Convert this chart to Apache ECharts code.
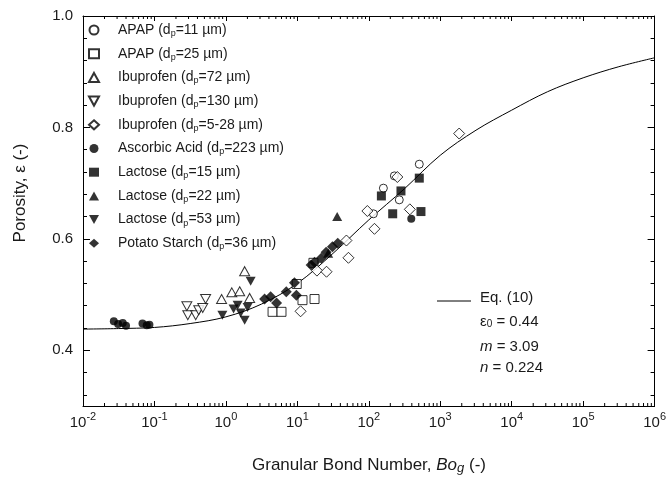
<!DOCTYPE html>
<html><head><meta charset="utf-8">
<script src="https://cdn.jsdelivr.net/npm/echarts@6/dist/echarts.min.js"></script>
<style>html,body{margin:0;padding:0;background:#fff}#c{width:669px;height:481px}</style>
</head><body><div id="c"></div>
<script>
const FONT = '"Liberation Sans", Arial, sans-serif';
const TXT = '#1a1a1a';

// ---- data (Bo_g, porosity) ----
const apap11   = [[116,0.645],[160,0.691],[228,0.713],[267,0.670],[509,0.734]];
const apap25   = [[4.5,0.469],[6.0,0.469],[9.8,0.519],[11.8,0.490],[17.4,0.492],[16.8,0.557]];
const ibu72    = [[0.87,0.492],[1.21,0.504],[1.56,0.506],[1.83,0.542],[2.15,0.494]];
const ibu130   = [[0.284,0.479],[0.293,0.463],[0.378,0.463],[0.417,0.472],[0.474,0.476],[0.52,0.492]];
const ibu528   = [[11.1,0.470],[18.8,0.543],[25.6,0.541],[48.6,0.597],[51.9,0.566],[95.5,0.650],[120,0.618],[251,0.711],[375,0.653],[1841,0.789]];
const ascorbic = [[0.027,0.452],[0.031,0.447],[0.036,0.449],[0.040,0.444],[0.068,0.448],[0.078,0.445],[0.085,0.446],[393,0.636]];
const lac15    = [[150,0.677],[216,0.645],[282,0.686],[509,0.709],[537,0.649]];
const lac22    = [[27,0.574],[36.1,0.640]];
const lac53    = [[0.893,0.463],[1.28,0.474],[1.46,0.481],[1.61,0.467],[1.83,0.454],[2.01,0.477],[2.22,0.524]];
const potato   = [[3.48,0.492],[4.23,0.496],[5.12,0.485],[7.0,0.505],[9.1,0.521],[9.7,0.499],[15.6,0.553],[17.4,0.558],[21.6,0.565],[25.3,0.576],[31.0,0.586],[36.8,0.592]];

// Eq. (10) curve
const curveBo  = [0.01,0.0316,0.1,0.316,1,3.16,10,31.6,100,316,1000,3162,1e4,31623,1e5,316228,1e6];
const curveEps = [0.438,0.439,0.441,0.448,0.46,0.483,0.52,0.574,0.634,0.69,0.75,0.795,0.831,0.864,0.889,0.909,0.925];

// axes
const xMin = 0.01, xMax = 1e6;
const yMin = 0.3, yMax = 1.0;
const yTickLabels = ['0.40','0.60','0.80','1.00'];
const yCats = [];
for (let i = 0; i <= 35; i++) yCats.push((yMin + 0.02 * i).toFixed(2));
const xMinorTicks = [];
for (let e = -2; e < 6; e++) for (let k = 2; k <= 9; k++) xMinorTicks.push(k * Math.pow(10, e));

const names = [
  'APAP (dp=11 µm)','APAP (dp=25 µm)','Ibuprofen (dp=72 µm)','Ibuprofen (dp=130 µm)',
  'Ibuprofen (dp=5-28 µm)','Ascorbic Acid (dp=223 µm)','Lactose (dp=15 µm)',
  'Lactose (dp=22 µm)','Lactose (dp=53 µm)','Potato Starch (dp=36 µm)'
];
const DOWN = 'path://M0,0L10,0L5,9Z';
const UP = 'path://M5,0L10,9L0,9Z';
const sets = [apap11, apap25, ibu72, ibu130, ibu528, ascorbic, lac15, lac22, lac53, potato];
const symbols = ['circle','rect',UP,DOWN,'diamond','circle','rect',UP,DOWN,'diamond'];
const sizes = [8,9,[10,9],[10,9],11,8,9,[10,9],[10,9],11];
const filled = [false,false,false,false,false,true,true,true,true,true];

const scatterSeries = names.map((n, i) => ({
  name: n, type: 'scatter', xAxisIndex: 0, yAxisIndex: 0,
  data: sets[i], symbol: symbols[i], symbolSize: sizes[i],
  itemStyle: filled[i] ? {color:'#000', borderColor:'#000', borderWidth:0}
                       : {color:'#fff', borderColor:'#000', borderWidth:1},
  z: 3
}));

const chart = echarts.init(document.getElementById('c'), null, {renderer:'canvas'});

function yCatAxis(pos, len, intervalFn, withLabel, withLine) {
  return {
    type:'category', data: yCats, boundaryGap:false, position: pos,
    axisLine:{show: withLine, lineStyle:{color:'#000', width:1}},
    axisTick:{show:true, inside:true, length: len, interval: intervalFn, lineStyle:{color:'#000', width:1}},
    axisLabel: withLabel ? {
      show:true, interval: (i, v) => yTickLabels.indexOf(v) >= 0,
      formatter: v => parseFloat(v).toFixed(1),
      fontFamily: FONT, fontSize: 15, color: TXT, margin: 10
    } : {show:false},
    splitLine:{show:false}
  };
}

const xLabelRich = {
  b:{fontFamily:FONT, fontSize:15, color:TXT, lineHeight:24},
  s:{fontFamily:FONT, fontSize:11, color:TXT, lineHeight:10, verticalAlign:'top'}
};

chart.setOption({
  animation:false,
  backgroundColor:'#fff',
  grid:{left:83, right:14, top:16, bottom:75, containLabel:false},
  xAxis:[
    {type:'log', logBase:10, min:xMin, max:xMax, splitNumber:8, position:'bottom',
     axisLine:{lineStyle:{color:'#000', width:1}},
     axisTick:{inside:true, length:5, lineStyle:{color:'#000'}},
     axisLabel:{margin:5, formatter: v => '{b|10}{s|' + Math.round(Math.log10(v)) + '}', rich: xLabelRich},
     splitLine:{show:false}},
    {type:'log', logBase:10, min:xMin, max:xMax, splitNumber:8, position:'top',
     axisLine:{lineStyle:{color:'#000', width:1}},
     axisTick:{inside:true, length:5, lineStyle:{color:'#000'}},
     axisLabel:{show:false}, splitLine:{show:false}}
  ],
  yAxis:[
    {type:'value', min:yMin, max:yMax, show:false},
    yCatAxis('left', 4, i => i % 2 === 1, true, true),
    yCatAxis('left', 7, i => i % 10 === 5, false, false),
    yCatAxis('right', 4, i => i % 2 === 1, false, true),
    yCatAxis('right', 7, i => i % 10 === 5, false, false)
  ],
  legend:{
    orient:'vertical', left:88, top:22, padding:0, itemWidth:10, itemHeight:9, itemGap:7.7,
    selectedMode:false, data:names,
    formatter: n => n.replace('dp', 'd{sub|p}'),
    textStyle:{fontFamily:FONT, fontSize:14, color:TXT, lineHeight:16, padding:[0,0,0,14],
      rich:{sub:{fontFamily:FONT, fontSize:9, color:TXT, lineHeight:8, verticalAlign:'bottom'}}}
  },
  series:[
    {type:'line', name:'Eq. (10)', xAxisIndex:0, yAxisIndex:0,
     data: curveBo.map((b, i) => [b, curveEps[i]]), smooth:0.35, showSymbol:false, symbol:'none',
     lineStyle:{color:'#000', width:1}, z:2, silent:true},
    {type:'custom', name:'minorTicks', xAxisIndex:0, yAxisIndex:0, silent:true, clip:false,
     data: xMinorTicks.map(v => [v, yMin]),
     renderItem: (params, api) => {
       const b = api.coord([api.value(0), yMin]);
       const t = api.coord([api.value(0), yMax]);
       const st = {stroke:'#000', lineWidth:1};
       return {type:'group', children:[
         {type:'line', shape:{x1:b[0], y1:b[1], x2:b[0], y2:b[1]-3}, style:st},
         {type:'line', shape:{x1:t[0], y1:t[1], x2:t[0], y2:t[1]+3}, style:st}
       ]};
     }, z:1}
  ].concat(scatterSeries),
  graphic:[
    {type:'text', x:369, y:465, style:{
      text:'Granular Bond Number, {i|Bo}{is|g} (-)', align:'center', verticalAlign:'middle',
      font:'17px ' + FONT, fill:TXT,
      rich:{i:{fontFamily:FONT, fontSize:17, fontStyle:'italic', fill:TXT, lineHeight:20},
            is:{fontFamily:FONT, fontSize:13, fontStyle:'italic', fill:TXT, lineHeight:10, verticalAlign:'bottom'}}}},
    {type:'text', x:20, y:193, rotation:Math.PI/2, style:{
      text:'Porosity, ε (-)', align:'center', verticalAlign:'middle', font:'17px ' + FONT, fill:TXT}},
    {type:'line', shape:{x1:437, y1:301, x2:471, y2:301}, style:{stroke:'#000', lineWidth:1}},
    {type:'text', x:480, y:298, style:{text:'Eq. (10)', verticalAlign:'middle', font:'15px ' + FONT, fill:TXT}},
    {type:'text', x:480, y:322, style:{text:'ε{sub|0} = 0.44', verticalAlign:'middle', font:'15px ' + FONT, fill:TXT,
      rich:{sub:{fontFamily:FONT, fontSize:10, fill:TXT, lineHeight:8, verticalAlign:'bottom'}}}},
    {type:'text', x:480, y:347, style:{text:'{i|m} = 3.09', verticalAlign:'middle', font:'15px ' + FONT, fill:TXT,
      rich:{i:{fontFamily:FONT, fontSize:15, fontStyle:'italic', fill:TXT}}}},
    {type:'text', x:480, y:368, style:{text:'{i|n} = 0.224', verticalAlign:'middle', font:'15px ' + FONT, fill:TXT,
      rich:{i:{fontFamily:FONT, fontSize:15, fontStyle:'italic', fill:TXT}}}}
  ]
});
</script>
</body></html>
